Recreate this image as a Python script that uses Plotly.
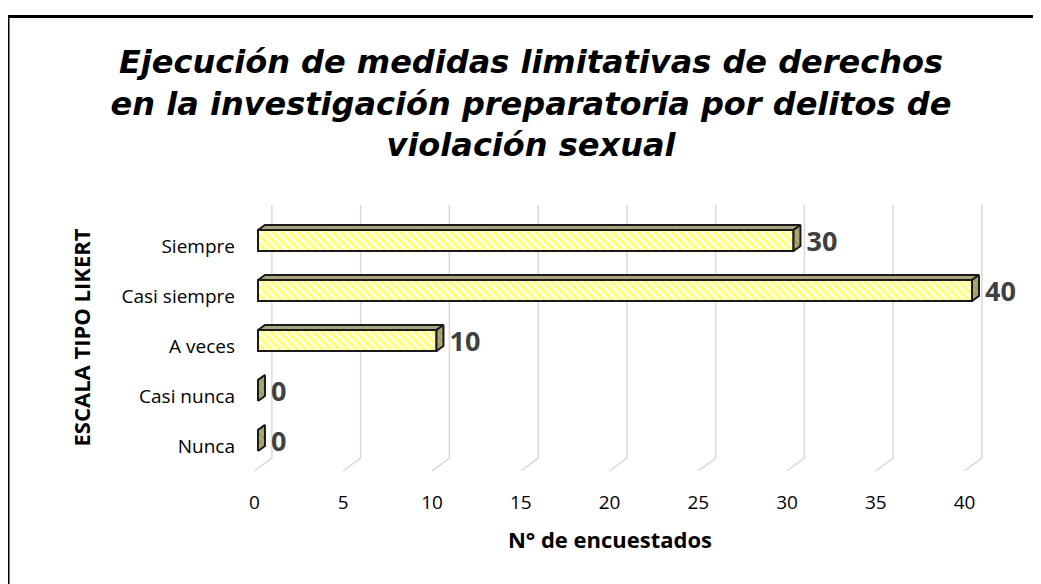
import plotly.graph_objects as go

# Data (bottom to top, as drawn)
categories = ["Nunca", "Casi nunca", "A veces", "Casi siempre", "Siempre"]
values = [0, 0, 10, 40, 30]
x_ticks = [0, 5, 10, 15, 20, 25, 30, 35, 40]

TITLE = ("Ejecución de medidas limitativas de derechos<br>"
         "en la investigación preparatoria por delitos de<br>"
         "violación sexual")

W, H = 1041, 584
PAGE = 8  # the page puts the figure 8px in from the top-left corner


def px(v):
    """pixel in the reference picture -> pixel inside the figure"""
    return v - PAGE


PLOT_L, PLOT_R, PLOT_T, PLOT_B = px(236), px(984), px(195), px(480)


def axis_range(lo_px, hi_px, zero_px, px_per_unit, flip=False):
    """Range of an axis so that value 0 sits at zero_px."""
    if flip:  # y axis: pixels grow downwards
        return [(zero_px - hi_px) / px_per_unit, (zero_px - lo_px) / px_per_unit]
    return [(lo_px - zero_px) / px_per_unit, (hi_px - zero_px) / px_per_unit]


# floor / wall plane (ticks, gridlines) and bar plane (middle depth)
X_FLOOR = axis_range(PLOT_L, PLOT_R, px(254.5), 17.75)
X_BARS = axis_range(PLOT_L, PLOT_R, px(258), 17.85)
Y_FLOOR = axis_range(PLOT_T, PLOT_B, px(446.5), 50, flip=True)
Y_BARS = axis_range(PLOT_T, PLOT_B, px(440.5), 50, flip=True)

# 3d geometry in axis units
GRID_DX, GRID_TOP, GRID_BACK, GRID_FRONT = 0.98, 4.83, -0.23, -0.49
BAR_H = 0.21
DX, DY = 0.39, 0.10
LABEL_DY = -0.07

fig = go.Figure()

# gridlines: back wall vertical + diagonal down to the front of the floor
gx, gy = [], []
for t in x_ticks:
    gx += [t + GRID_DX, t + GRID_DX, t, None]
    gy += [GRID_TOP, GRID_BACK, GRID_FRONT, None]
fig.add_trace(go.Scatter(x=gx, y=gy, mode="lines", xaxis="x", yaxis="y",
                         line=dict(color="#D9D9D9", width=1.5),
                         hoverinfo="skip", showlegend=False))

# front faces of bars
idx = list(range(len(categories)))
fig.add_trace(go.Bar(
    x=values, y=idx, orientation="h", width=BAR_H * 2,
    xaxis="x2", yaxis="y2",
    marker=dict(color="#FFFFE0",
                line=dict(color="#1A1A1A", width=2),
                pattern=dict(shape="\\", fgcolor="#FFFF00", bgcolor="#FFFFF0",
                             size=6, solidity=0.55)),
    showlegend=False, hoverinfo="skip"))

# top and side faces
tx, ty, sx, sy = [], [], [], []
for i, v in zip(idx, values):
    tx += [0, v, v + DX, DX, 0, None]
    ty += [i + BAR_H, i + BAR_H, i + BAR_H + DY, i + BAR_H + DY, i + BAR_H, None]
    sx += [v, v + DX, v + DX, v, v, None]
    sy += [i - BAR_H, i - BAR_H + DY, i + BAR_H + DY, i + BAR_H, i - BAR_H, None]
fig.add_trace(go.Scatter(x=tx, y=ty, mode="lines", fill="toself",
                         xaxis="x2", yaxis="y2",
                         fillcolor="#A9A57E",
                         line=dict(color="#1A1A1A", width=2),
                         hoverinfo="skip", showlegend=False))
fig.add_trace(go.Scatter(x=sx, y=sy, mode="lines", fill="toself",
                         xaxis="x2", yaxis="y2",
                         fillcolor="#A8A470",
                         fillpattern=dict(shape="\\", fgcolor="#C9C46A",
                                          bgcolor="#A09C72", size=5, solidity=0.4),
                         line=dict(color="#1A1A1A", width=2),
                         hoverinfo="skip", showlegend=False))

# value labels, pushed off the side face by an invisible marker
fig.add_trace(go.Scatter(
    x=[v + DX for v in values], y=[i + LABEL_DY for i in idx],
    mode="markers+text", xaxis="x2", yaxis="y2",
    marker=dict(size=8, opacity=0),
    text=[str(v) for v in values], textposition="middle right",
    textfont=dict(family="Open Sans", size=27, color="#404040", weight="bold"),
    cliponaxis=False, hoverinfo="skip", showlegend=False))

fig.update_layout(
    width=W, height=H,
    margin=dict(l=PLOT_L, r=W - PLOT_R, t=PLOT_T, b=H - PLOT_B),
    paper_bgcolor="white", plot_bgcolor="white",
    title=dict(text=TITLE, x=px(531) / W, xanchor="center",
               y=1 - px(73) / H, yanchor="middle",
               font=dict(family="DejaVu Sans", size=32, color="black",
                         weight="bold", style="italic")),
    xaxis=dict(range=X_FLOOR, tickvals=x_ticks, showgrid=False, zeroline=False,
               showline=False, ticks="", ticklabelstandoff=9,
               tickfont=dict(family="Open Sans", size=19, color="black"),
               title=dict(text="N° de encuestados", standoff=18,
                          font=dict(family="Open Sans", size=22, color="black",
                                    weight="bold"))),
    yaxis=dict(range=Y_FLOOR, tickvals=idx, ticktext=categories,
               showgrid=False, zeroline=False, showline=False, ticks="",
               tickfont=dict(family="Open Sans", size=19, color="black"),
               title=dict(text="ESCALA TIPO LIKERT", standoff=24,
                          font=dict(family="Open Sans", size=22, color="black",
                                    weight="bold"))),
    xaxis2=dict(range=X_BARS, overlaying="x", visible=False),
    yaxis2=dict(range=Y_BARS, overlaying="y", visible=False),
    shapes=[dict(type="rect", xref="paper", yref="paper",
                 x0=(px(8) - PLOT_L) / (PLOT_R - PLOT_L),
                 x1=(px(1080) - PLOT_L) / (PLOT_R - PLOT_L),
                 y0=(PLOT_B - px(640)) / (PLOT_B - PLOT_T),
                 y1=(PLOT_B - px(16.5)) / (PLOT_B - PLOT_T),
                 line=dict(color="black", width=3))],
)

fig.write_html("out.html")
